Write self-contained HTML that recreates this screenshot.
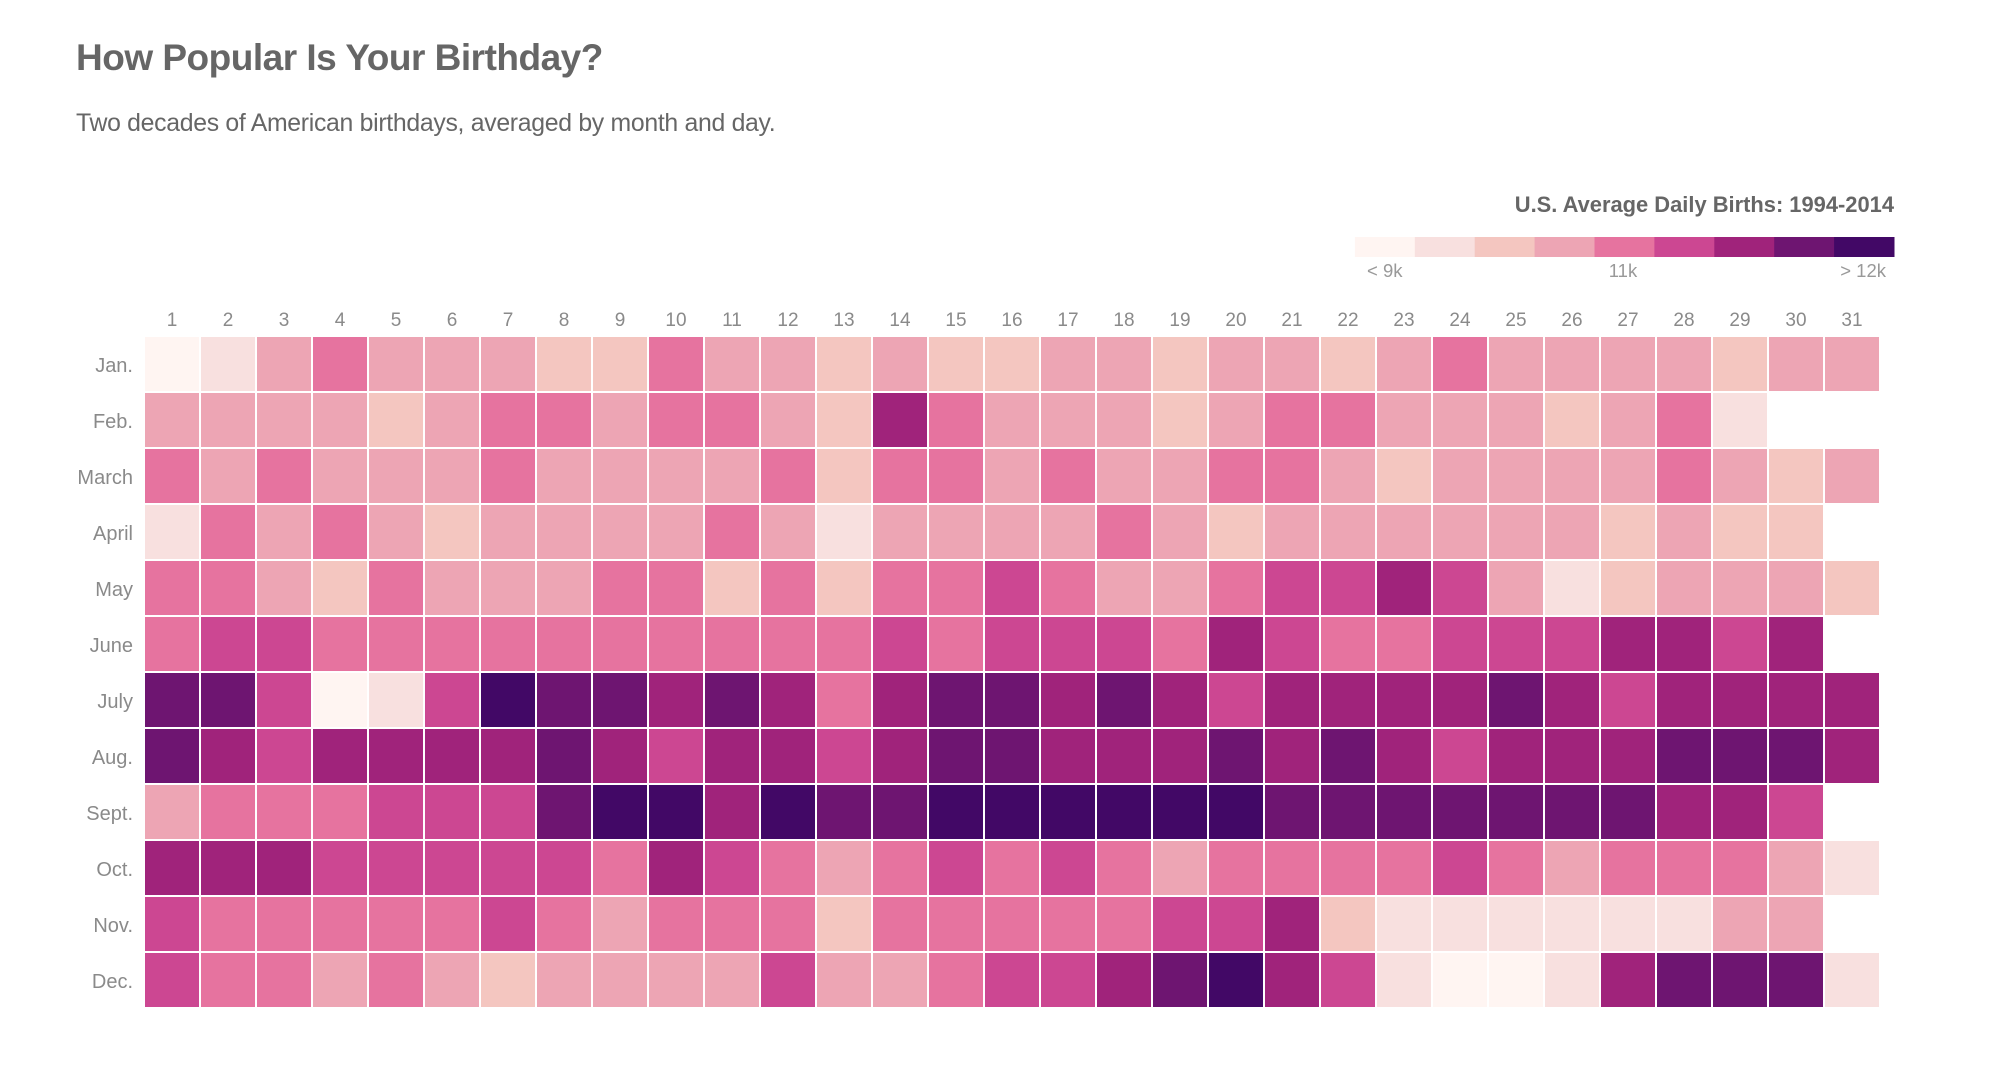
<!DOCTYPE html>
<html><head><meta charset="utf-8"><style>
body{margin:0;background:#fff;font-family:"Liberation Sans",sans-serif;}
#wrap{position:relative;width:1994px;height:1074px;overflow:hidden;}
h1{position:absolute;left:76px;top:37px;margin:0;font-size:37px;font-weight:bold;color:#666;letter-spacing:-0.5px;}
p.sub{position:absolute;left:76px;top:110px;margin:0;font-size:24.8px;color:#666;letter-spacing:-0.3px;}
svg{position:absolute;left:0;top:0;}
</style></head><body>
<div id="wrap">
<h1>How Popular Is Your Birthday?</h1>
<p class="sub">Two decades of American birthdays, averaged by month and day.</p>
<svg id="chart" width="1994" height="1074"></svg>
</div>
<script>
const months = ["Jan.","Feb.","March","April","May","June","July","Aug.","Sept.","Oct.","Nov.","Dec."];
const days = [1,2,3,4,5,6,7,8,9,10,11,12,13,14,15,16,17,18,19,20,21,22,23,24,25,26,27,28,29,30,31];
const legendLabels = ["< 9k","11k","> 12k"];
const thresholds = [9000,9430,9860,10290,10710,11140,11570,12000];
const palette = ["#fff5f2","#f8e0df","#f4c6c0","#eda5b4","#e6739f","#cc4792","#a0237b","#6e1571","#420866"];
const jan=[8700,9200,10100,10500,10100,10100,10100,9600,9600,10500,10100,10100,9600,10100,9600,9600,10100,10100,9600,10100,10100,9600,10100,10500,10100,10100,10100,10100,9600,10100,10100];
const feb=[10100,10100,10100,10100,9600,10100,10500,10500,10100,10500,10500,10100,9600,11400,10500,10100,10100,10100,9600,10100,10500,10500,10100,10100,10100,9600,10100,10500,9200];
const mar=[10500,10100,10500,10100,10100,10100,10500,10100,10100,10100,10100,10500,9600,10500,10500,10100,10500,10100,10100,10500,10500,10100,9600,10100,10100,10100,10100,10500,10100,9600,10100];
const apr=[9200,10500,10100,10500,10100,9600,10100,10100,10100,10100,10500,10100,9200,10100,10100,10100,10100,10500,10100,9600,10100,10100,10100,10100,10100,10100,9600,10100,9600,9600];
const may=[10500,10500,10100,9600,10500,10100,10100,10100,10500,10500,9600,10500,9600,10500,10500,10900,10500,10100,10100,10500,10900,10900,11400,10900,10100,9200,9600,10100,10100,10100,9600];
const jun=[10500,10900,10900,10500,10500,10500,10500,10500,10500,10500,10500,10500,10500,10900,10500,10900,10900,10900,10500,11400,10900,10500,10500,10900,10900,10900,11400,11400,10900,11400];
const jul=[11800,11800,10900,8700,9200,10900,12200,11800,11800,11400,11800,11400,10500,11400,11800,11800,11400,11800,11400,10900,11400,11400,11400,11400,11800,11400,10900,11400,11400,11400,11400];
const aug=[11800,11400,10900,11400,11400,11400,11400,11800,11400,10900,11400,11400,10900,11400,11800,11800,11400,11400,11400,11800,11400,11800,11400,10900,11400,11400,11400,11800,11800,11800,11400];
const sep=[10100,10500,10500,10500,10900,10900,10900,11800,12200,12200,11400,12200,11800,11800,12200,12200,12200,12200,12200,12200,11800,11800,11800,11800,11800,11800,11800,11400,11400,10900];
const oct=[11400,11400,11400,10900,10900,10900,10900,10900,10500,11400,10900,10500,10100,10500,10900,10500,10900,10500,10100,10500,10500,10500,10500,10900,10500,10100,10500,10500,10500,10100,9200];
const nov=[10900,10500,10500,10500,10500,10500,10900,10500,10100,10500,10500,10500,9600,10500,10500,10500,10500,10500,10900,10900,11400,9600,9200,9200,9200,9200,9200,9200,10100,10100];
const dec=[10900,10500,10500,10100,10500,10100,9600,10100,10100,10100,10100,10900,10100,10100,10500,10900,10900,11400,11800,12200,11400,10900,9200,8700,8700,9200,11400,11800,11800,11800,9200];
const series=[jan,feb,mar,apr,may,jun,jul,aug,sep,oct,nov,dec];

const NS="http://www.w3.org/2000/svg";
const svg=document.getElementById('chart');
const gridLeft=145, gridTop=337, pitch=56, gap=2;
function xPos(d){return gridLeft+(d-1)*pitch;}
function yPos(m){return gridTop+m*pitch;}
function colorOf(v){let i=0;while(i<thresholds.length&&v>=thresholds[i])i++;return palette[i];}
function mk(tag,attrs,txt){const e=document.createElementNS(NS,tag);for(const k in attrs)e.setAttribute(k,attrs[k]);if(txt!==undefined)e.textContent=txt;svg.appendChild(e);return e;}

days.forEach(d=>{
  const t=mk('text',{x:xPos(d)+(pitch-gap)/2,y:326,'text-anchor':'middle','font-size':19,fill:'#8a8a8a','font-family':'Liberation Sans, sans-serif'},String(d));
  
  
});
months.forEach((m,i)=>{
  const t=mk('text',{x:133,y:yPos(i)+(pitch-gap)/2+8,'text-anchor':'end','font-size':20,fill:'#8a8a8a','font-family':'Liberation Sans, sans-serif'},m);
  
  
});
series.forEach((vals,mi)=>{
  vals.forEach((v,di)=>{
    const r=mk('rect',{x:xPos(di+1),y:yPos(mi),width:pitch-gap,height:pitch-gap,fill:colorOf(v)});
    
    
  });
});
// legend
const lgRight=1894, sw=59.9, lgX=lgRight-9*sw;
const lt=mk('text',{x:lgRight,y:212,'text-anchor':'end','font-size':21.9,'font-weight':'bold',fill:'#666','font-family':'Liberation Sans, sans-serif'},'U.S. Average Daily Births: 1994-2014');


palette.forEach((c,i)=>{
  const r=mk('rect',{x:lgX+i*sw,y:237,width:sw+0.5,height:20,fill:c});
  
  
});
const lpos=[[1367,'start'],[1623,'middle'],[1886,'end']];
legendLabels.forEach((s,i)=>{
  const t=mk('text',{x:lpos[i][0],y:277,'text-anchor':lpos[i][1],'font-size':18.5,fill:'#999','font-family':'Liberation Sans, sans-serif'},s);
  
  
});
</script>
</body></html>
